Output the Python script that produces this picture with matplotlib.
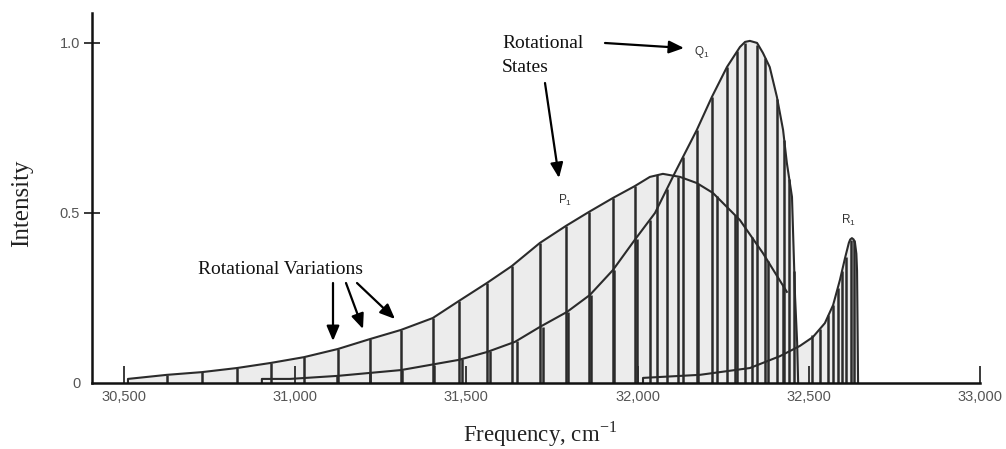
import matplotlib
matplotlib.use("Agg")
import matplotlib.pyplot as plt

plt.rcParams["font.family"] = ["Liberation Sans", "DejaVu Sans"]
plt.rcParams["mathtext.fontset"] = "custom"
plt.rcParams["mathtext.rm"] = "Liberation Serif"
plt.rcParams["mathtext.sf"] = "Liberation Sans"

# envelopes (frequency in cm-1, relative intensity)
p_env_freq = [30512, 30512, 30626, 30728, 30830, 30929, 31026, 31125, 31218, 31309,
              31402, 31478, 31560, 31633, 31715, 31791, 31858, 31928, 31992, 32036,
              32074, 32124, 32173, 32220, 32299, 32366, 32436]
p_env_int = [0.0, 0.012, 0.024, 0.032, 0.044, 0.059, 0.076, 0.100, 0.129, 0.156,
             0.191, 0.241, 0.294, 0.344, 0.412, 0.462, 0.503, 0.544, 0.579, 0.606,
             0.615, 0.606, 0.588, 0.559, 0.479, 0.382, 0.268]

q_env_freq = [30903, 30903, 30985, 31125, 31309, 31478, 31560, 31642, 31715, 31794,
              31861, 31928, 31992, 32051, 32109, 32173, 32217, 32261, 32299, 32314,
              32328, 32349, 32366, 32386, 32407, 32425, 32436, 32451, 32460, 32466,
              32469]
q_env_int = [0.0, 0.012, 0.012, 0.021, 0.038, 0.068, 0.091, 0.121, 0.165, 0.209,
             0.259, 0.332, 0.421, 0.500, 0.618, 0.744, 0.841, 0.929, 0.988, 1.003,
             1.006, 1.000, 0.971, 0.929, 0.841, 0.744, 0.647, 0.547, 0.253, 0.120,
             0.0]

r_env_freq = [32016, 32016, 32182, 32328, 32416, 32474, 32512, 32547, 32571, 32591,
              32606, 32617, 32621, 32626, 32631, 32635, 32639, 32641, 32644]
r_env_int = [0.0, 0.015, 0.024, 0.044, 0.079, 0.109, 0.135, 0.176, 0.229, 0.303,
             0.368, 0.412, 0.422, 0.426, 0.422, 0.412, 0.380, 0.330, 0.0]

# rotational lines (sticks)
p_line_freq = [30626, 30728, 30830, 30929, 31026, 31125, 31218, 31309, 31402, 31478,
               31560, 31633, 31715, 31791, 31858, 31928, 31992, 32056, 32118, 32176,
               32232, 32284, 32334, 32380, 32424]
p_line_int = [0.024, 0.032, 0.044, 0.059, 0.076, 0.100, 0.129, 0.156, 0.191, 0.241,
              0.294, 0.344, 0.412, 0.462, 0.503, 0.544, 0.579, 0.612, 0.607, 0.585,
              0.550, 0.495, 0.430, 0.360, 0.290]

q_line_freq = [31122, 31218, 31312, 31405, 31487, 31569, 31648, 31724, 31797, 31864,
               31931, 31998, 32036, 32086, 32133, 32173, 32217, 32261, 32290, 32314,
               32349, 32372, 32407, 32428, 32442, 32457]
q_line_int = [0.021, 0.030, 0.038, 0.052, 0.070, 0.094, 0.123, 0.165, 0.210, 0.260,
              0.332, 0.424, 0.480, 0.570, 0.665, 0.744, 0.841, 0.929, 0.975, 1.000,
              0.995, 0.955, 0.835, 0.715, 0.600, 0.330]

r_line_freq = [32509, 32533, 32556, 32571, 32585, 32597, 32608, 32623, 32632]
r_line_int = [0.14, 0.16, 0.20, 0.23, 0.28, 0.33, 0.37, 0.42, 0.42]

x_ticks = [30500, 31000, 31500, 32000, 32500, 33000]
x_tick_labels = ["30,500", "31,000", "31,500", "32,000", "32,500", "33,000"]
y_ticks = [0, 0.5, 1.0]
y_tick_labels = ["0", "0.5", "1.0"]

W, H = 1006, 449
INK = "#2b2b2b"
FILL = "#ececec"


def fp(x, y):
    # top-left pixel -> figure fraction
    return (x / W, 1 - y / H)


fig = plt.figure(figsize=(W / 100, H / 100), dpi=100)
ax = fig.add_axes([92 / W, 1 - 383 / H, (980 - 92) / W, (383 - 13) / H])

envs = [(p_env_freq, p_env_int), (q_env_freq, q_env_int), (r_env_freq, r_env_int)]
for fr, it in envs:
    ax.fill_between(fr, it, 0, color=FILL, lw=0, zorder=1)

for fr, it in [(p_line_freq, p_line_int), (q_line_freq, q_line_int), (r_line_freq, r_line_int)]:
    ax.vlines(fr, 0, it, color=INK, lw=1.8, zorder=2)

for fr, it in envs:
    ax.plot(fr, it, color=INK, lw=1.5, zorder=3, solid_joinstyle="round")

ax.set_xlim(30407, 33000)
ax.set_ylim(0, 1.088)
ax.spines["top"].set_visible(False)
ax.spines["right"].set_visible(False)
for s in ("left", "bottom"):
    ax.spines[s].set_color("#111111")
    ax.spines[s].set_linewidth(1.8)
    ax.spines[s].set_zorder(4)

ax.set_xticks(x_ticks)
ax.set_xticklabels(x_tick_labels)
ax.set_yticks(y_ticks)
ax.set_yticklabels(y_tick_labels)
ax.tick_params(axis="x", direction="in", length=12, width=1.3, color=INK,
               labelsize=10.5, labelcolor="#555555", pad=5)
ax.tick_params(axis="y", direction="inout", length=11, width=1.3, color=INK,
               labelsize=10.5, labelcolor="#555555", pad=3)
ax.yaxis.get_major_ticks()[0].tick1line.set_visible(False)

serif = "Liberation Serif"
fig.text(*fp(22, 203), "Intensity", rotation=90, ha="center", va="center",
         family=serif, fontsize=18, color="#222222")
fig.text(*fp(540, 434), r"Frequency, cm$^{\mathrm{-1}}$", ha="center", va="center",
         family=serif, fontsize=16.5, color="#222222")

fig.text(*fp(281, 270), "Rotational Variations", ha="center", va="center",
         family=serif, fontsize=14, color="#111111")
fig.text(*fp(502, 48), "Rotational", ha="left", va="baseline",
         family=serif, fontsize=14, color="#111111")
fig.text(*fp(502, 72), "States", ha="left", va="baseline",
         family=serif, fontsize=14, color="#111111")

fig.text(*fp(702, 52), r"$\mathsf{Q_1}$", ha="center", va="center", fontsize=8.5, color="#333333")
fig.text(*fp(565, 200), r"$\mathsf{P_1}$", ha="center", va="center", fontsize=8.5, color="#333333")
fig.text(*fp(848, 220), r"$\mathsf{R_1}$", ha="center", va="center", fontsize=8.5, color="#333333")

arrows = [((333, 283), (333, 341)), ((346, 283), (363, 329)), ((357, 283), (395, 319)),
          ((605, 43), (684, 48)), ((545, 83), (559, 178))]
for (x0, y0), (x1, y1) in arrows:
    ax.annotate("", xy=fp(x1, y1), xycoords="figure fraction",
                xytext=fp(x0, y0), textcoords="figure fraction",
                arrowprops=dict(arrowstyle="-|>,head_length=0.9,head_width=0.38",
                                mutation_scale=10, lw=1.6, color="black",
                                shrinkA=0, shrinkB=0))

fig.savefig("out.png", dpi=100)
